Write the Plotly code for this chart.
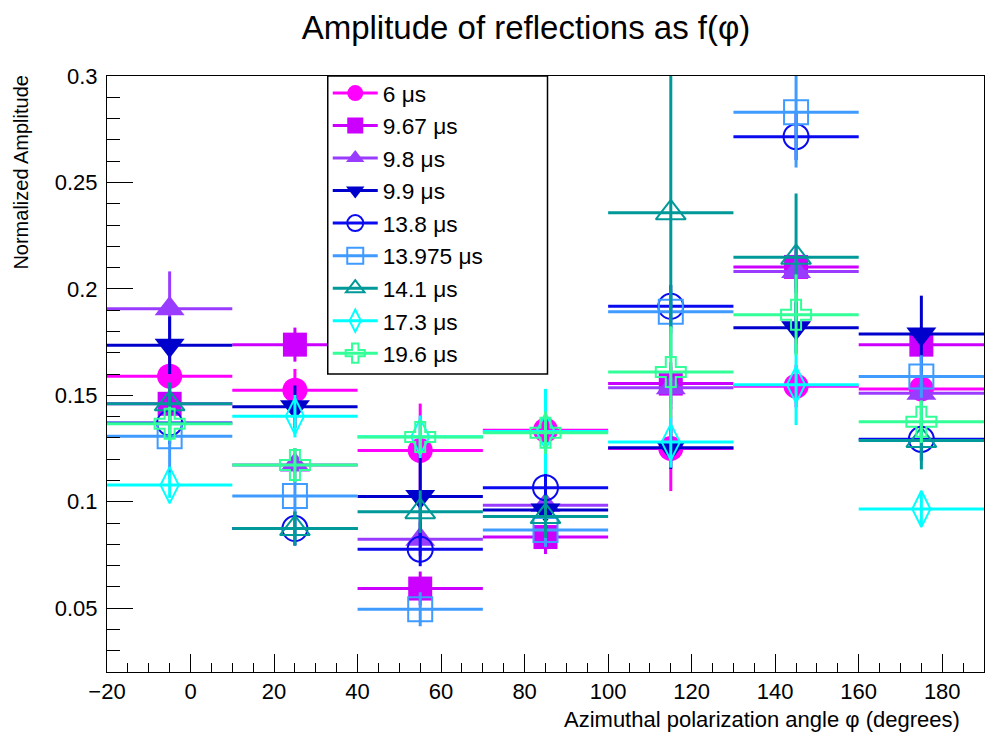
import plotly.graph_objects as go

# ---------------- data ----------------
angles = [-5, 25, 55, 85, 115, 145, 175]          # bin centres (degrees)
bin_half_width = 15                                 # half bin width (degrees)

labels = ["6 μs", "9.67 μs", "9.8 μs", "9.9 μs", "13.8 μs",
          "13.975 μs", "14.1 μs", "17.3 μs", "19.6 μs"]

amp_6     = [0.1590, 0.1524, 0.1241, 0.1336, 0.1250, 0.1543, 0.1530]
amp_9_67  = [0.1460, 0.1738, 0.0592, 0.0834, 0.1555, 0.2103, 0.1738]
amp_9_8   = [0.1906, 0.1172, 0.0824, 0.0983, 0.1535, 0.2081, 0.1510]
amp_9_9   = [0.1735, 0.1446, 0.1024, 0.0961, 0.1254, 0.1817, 0.1788]
amp_13_8  = [0.1370, 0.0874, 0.0777, 0.1066, 0.1918, 0.2715, 0.1293]
amp_13_975= [0.1308, 0.1027, 0.0495, 0.0867, 0.1892, 0.2830, 0.1588]
amp_14_1  = [0.1460, 0.0874, 0.0953, 0.0930, 0.2357, 0.2148, 0.1288]
amp_17_3  = [0.1078, 0.1402, 0.1305, 0.1330, 0.1280, 0.1550, 0.0966]
amp_19_6  = [0.1366, 0.1172, 0.1304, 0.1324, 0.1609, 0.1878, 0.1376]

err_6     = [0.010, 0.010, 0.022, 0.012, 0.020, 0.010, 0.010]
err_9_67  = [0.008, 0.008, 0.008, 0.008, 0.010, 0.010, 0.008]
err_9_8   = [0.0176, 0.008, 0.008, 0.010, 0.010, 0.010, 0.010]
err_9_9   = [0.0135, 0.010, 0.020, 0.010, 0.010, 0.012, 0.018]
err_13_8  = [0.010, 0.008, 0.008, 0.010, 0.010, 0.011, 0.010]
err_13_975= [0.020, 0.008, 0.008, 0.008, 0.010, 0.026, 0.010]
err_14_1  = [0.010, 0.008, 0.010, 0.010, 0.068, 0.030, 0.0136]
err_17_3  = [0.006, 0.010, 0.010, 0.020, 0.012, 0.019, 0.008]
err_19_6  = [0.008, 0.008, 0.008, 0.010, 0.0215, 0.019, 0.010]

x_tickvals = [-20, 0, 20, 40, 60, 80, 100, 120, 140, 160, 180]
x_ticktext = ["\u221220", "0", "20", "40", "60", "80", "100", "120", "140", "160", "180"]
y_tickvals = [0.05, 0.1, 0.15, 0.2, 0.25, 0.3]
y_ticktext = ["0.05", "0.1", "0.15", "0.2", "0.25", "0.3"]

# ---------------- styles ----------------
colors = ["#FF00FF", "#CC00FF", "#9A3CFF", "#0000CC", "#0A0AF0",
          "#3F9BFF", "#009999", "#00FFFF", "#33FF99"]
symbols = ["circle", "square", "triangle-up", "triangle-down", "circle-open",
           "square-open", "triangle-up-open", "diamond-tall-open", "cross-open"]
sizes = [25, 24, 26, 26, 25, 24, 26, 26, 25]

amps = [amp_6, amp_9_67, amp_9_8, amp_9_9, amp_13_8, amp_13_975, amp_14_1, amp_17_3, amp_19_6]
errs = [err_6, err_9_67, err_9_8, err_9_9, err_13_8, err_13_975, err_14_1, err_17_3, err_19_6]

FONT = "Liberation Sans, Arial, sans-serif"

fig = go.Figure()
for i, (lab, a, e, c, s, sz) in enumerate(zip(labels, amps, errs, colors, symbols, sizes)):
    is_open = s.endswith("open")
    mk = dict(symbol=s, size=sz, color=c,
              line=dict(color=c, width=2 if is_open else 0))
    fig.add_trace(go.Scatter(
        x=angles, y=a, mode="markers", marker=mk, showlegend=False,
        error_x=dict(type="constant", value=bin_half_width, thickness=3, width=0, color=c),
        error_y=dict(type="data", array=e, thickness=3, width=0, color=c),
        hoverinfo="x+y", name=lab))
    # legend entry (line + marker like the original)
    fig.add_trace(go.Scatter(
        x=[None], y=[None], mode="lines+markers", name=lab,
        line=dict(color=c, width=3), marker=mk, showlegend=True))

# legend frame (paper coordinates, matching the original box)
leg_x0, leg_x1 = (328 - 107) / 878, (548 - 107) / 878
leg_y0, leg_y1 = (672 - 374) / 596, 1.0

fig.update_layout(
    width=985, height=736,
    paper_bgcolor="white", plot_bgcolor="white",
    margin=dict(l=107, r=1, t=76, b=64),
    font=dict(family=FONT, color="black"),
    title=dict(text="Amplitude of reflections as f(\u03c6)", font=dict(size=33, family=FONT),
               x=526/985, xanchor="center", xref="container",
               y=1-27/736, yanchor="middle", yref="container"),
    xaxis=dict(range=[-20, 190], tickvals=x_tickvals, ticktext=x_ticktext,
               ticks="inside", ticklen=18, tickwidth=1, tickcolor="black",
               minor=dict(dtick=5, tick0=0, ticks="inside", ticklen=9, tickcolor="black"),
               showline=True, linecolor="black", linewidth=1, mirror=True,
               showgrid=False, zeroline=False, tickfont=dict(size=22)),
    yaxis=dict(range=[0.02, 0.3], tickvals=y_tickvals, ticktext=y_ticktext,
               ticks="inside", ticklen=26, tickwidth=1, tickcolor="black",
               minor=dict(dtick=0.01, tick0=0, ticks="inside", ticklen=13, tickcolor="black"),
               showline=True, linecolor="black", linewidth=1, mirror=True,
               showgrid=False, zeroline=False, tickfont=dict(size=22),
               ticklabelstandoff=4),
    legend=dict(x=leg_x0, y=1.007, xanchor="left", yanchor="top",
                bgcolor="rgba(0,0,0,0)", borderwidth=0,
                font=dict(size=22.7, family=FONT), tracegroupgap=0,
                itemsizing="trace", itemwidth=45),
    shapes=[dict(type="rect", xref="paper", yref="paper",
                 x0=leg_x0, x1=leg_x1, y0=leg_y0, y1=leg_y1,
                 line=dict(color="black", width=1.5), fillcolor="white", layer="above")],
    annotations=[
        dict(text="Normalized Amplitude", textangle=-90, showarrow=False,
             xref="paper", yref="paper", x=-87/878, xanchor="center",
             y=1.005, yanchor="top", font=dict(size=20, family=FONT)),
        dict(text="Azimuthal polarization angle \u03c6 (degrees)", showarrow=False,
             xref="paper", yref="paper", x=(963-107)/878, xanchor="right",
             y=-(720-672)/596, yanchor="middle", font=dict(size=22, family=FONT)),
    ],
)

fig.write_html("out.html", config={"displayModeBar": False},
               post_script="document.body.style.margin='0px';document.body.style.overflow='hidden';")
